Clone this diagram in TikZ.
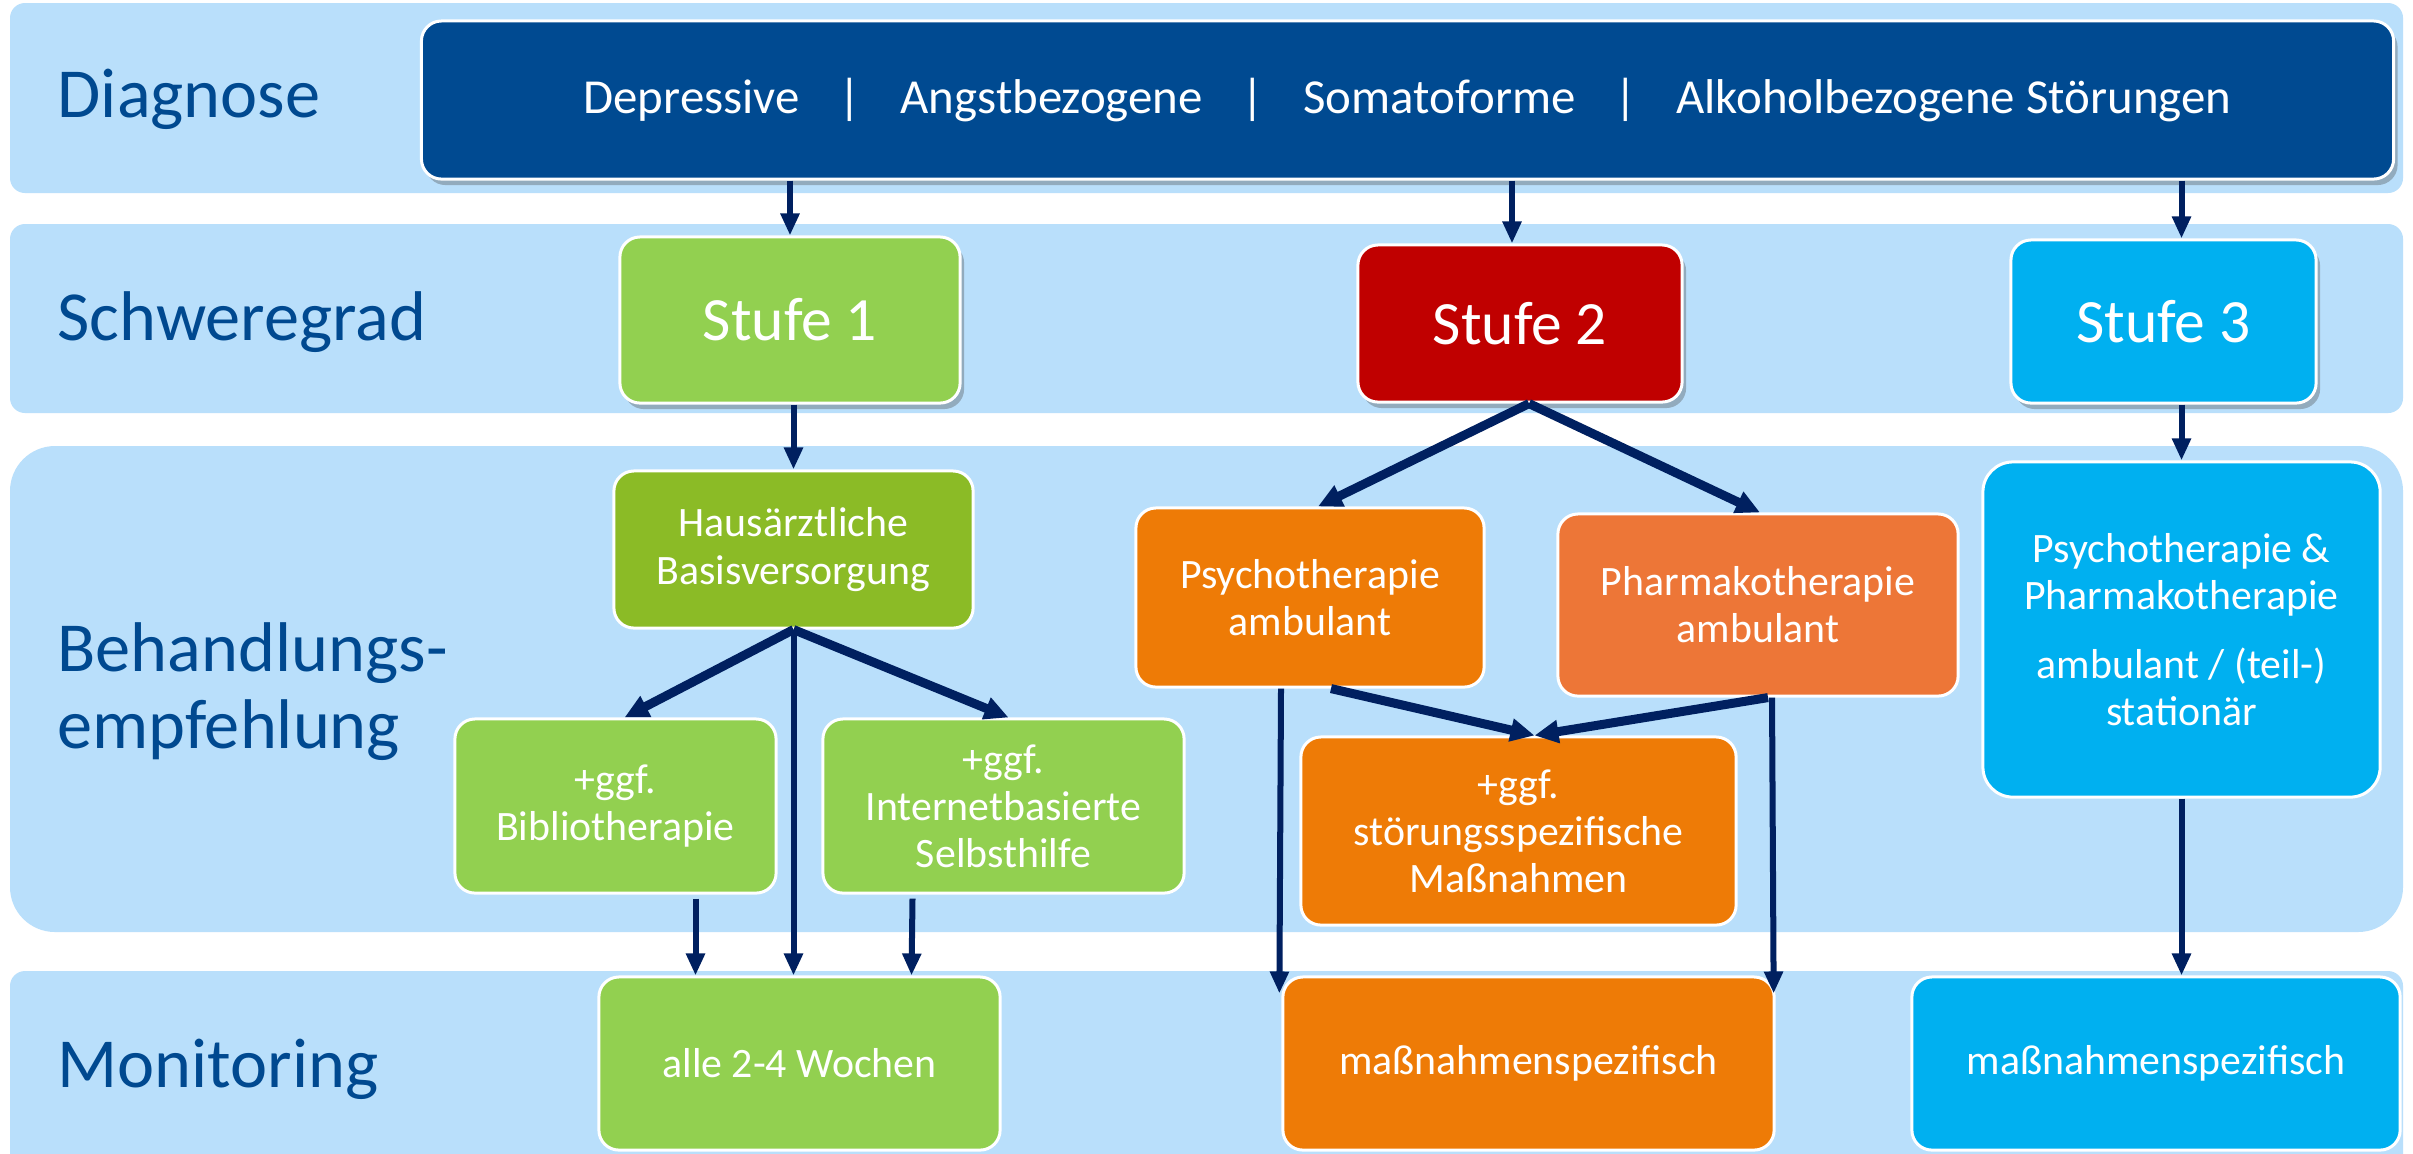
\documentclass[tikz,border=0pt]{standalone}
\usepackage{fontspec}
\setmainfont{Carlito}
\usetikzlibrary{arrows.meta,shadows,calc}
\definecolor{bandblue}{RGB}{185,223,251}
\definecolor{labelblue}{RGB}{0,73,144}
\definecolor{diagblue}{RGB}{0,74,145}
\definecolor{navy}{RGB}{0,32,96}
\definecolor{lgreen}{RGB}{146,208,80}
\definecolor{dgreen}{RGB}{139,187,38}
\definecolor{dred}{RGB}{192,0,0}
\definecolor{cyanbox}{RGB}{0,176,240}
\definecolor{orangebox}{RGB}{238,123,6}
\definecolor{orangelight}{RGB}{237,118,55}

\begin{document}
\begin{tikzpicture}[x=0.01cm,y=-0.01cm,
  band/.style={fill=bandblue},
  rowlabel/.style={anchor=base west, inner sep=0, text=labelblue, font=\fontsize{20}{24}\selectfont},
  box/.style={draw=white, line width=0.3mm, rounded corners=2mm, text=white, align=center, inner sep=0, font=\fontsize{11.9}{13.4}\selectfont},
  shadowed/.style={drop shadow={shadow xshift=0.4mm, shadow yshift=-0.6mm, opacity=0.35, fill=black!70}},
  stufe/.style={box, shadowed, font=\fontsize{17.5}{21}\selectfont},
  thinarrow/.style={draw=navy, line width=0.6mm, -{Triangle[length=2.2mm,width=1.8mm]}},
  thickarrow/.style={draw=navy, line width=0.9mm, -{Triangle[length=2.4mm,width=2.2mm]}},
]
\useasboundingbox (0,0) rectangle (2413,1153);
\fill[white] (0,0) rectangle (2413,1153);

% background bands of the four rows
\fill[band, rounded corners=1.5mm] (10,3) rectangle (2403,193);
\fill[band, rounded corners=1.5mm] (10,224) rectangle (2403,413);
\fill[band, rounded corners=4.5mm] (10,446) rectangle (2403,932);
\fill[band, rounded corners=1.5mm] (10,971) rectangle (2403,1190);

% row labels
\node[rowlabel] (lab1) at (57,117) {Diagnose};
\node[rowlabel] (lab2) at (57,340) {Schweregrad};
\node[rowlabel] (lab3a) at (57,671) {Behandlungs-};
\node[rowlabel] (lab3b) at (57,748) {empfehlung};
\node[rowlabel] (lab4) at (57,1087) {Monitoring};

% diagnosis bar
\node[box, shadowed, fill=diagblue, minimum width=197.1mm, minimum height=15.8mm,
      font=\fontsize{13.9}{16}\selectfont] (diag) at (1407.5,100)
  {Depressive\hspace{0.8em}|\hspace{0.8em}Angstbezogene\hspace{0.8em}|\hspace{0.8em}Somatoforme\hspace{0.8em}|\hspace{0.8em}Alkoholbezogene Störungen};

% severity levels
\node[stufe, fill=lgreen, minimum width=34mm, minimum height=16.6mm] (s1) at (790,320) {Stufe 1};
\node[stufe, fill=dred, minimum width=32.4mm, minimum height=15.7mm] (s2) at (1520,323.5) {Stufe 2};
\node[stufe, fill=cyanbox, minimum width=30.5mm, minimum height=16.3mm] (s3) at (2163.5,321.5) {Stufe 3};

% treatment recommendations
\node[box, fill=dgreen, minimum width=35.9mm, minimum height=15.7mm] (haus) at (793.5,549.5) {Hausärztliche\\Basisversorgung};
\node[box, fill=lgreen, minimum width=32.1mm, minimum height=17.4mm] (bib) at (615.5,806) {+ggf.\\Bibliotherapie};
\node[box, fill=lgreen, minimum width=36.1mm, minimum height=17.4mm] (inet) at (1003.5,806) {+ggf.\\Internetbasierte\\Selbsthilfe};
\node[box, fill=orangebox, minimum width=34.8mm, minimum height=17.9mm] (psy) at (1310,597.5) {Psychotherapie\\ambulant};
\node[box, fill=orangelight, minimum width=40mm, minimum height=18.2mm] (pha) at (1758,605) {Pharmakotherapie\\ambulant};
\node[box, fill=orangebox, minimum width=43.5mm, minimum height=18.8mm] (stoer) at (1518.5,831) {+ggf.\\störungsspezifische\\Maßnahmen};
\node[box, fill=cyanbox, rounded corners=3mm, minimum width=39.7mm, minimum height=33.5mm] (s3b) at (2181.5,629.5)
  {Psychotherapie \&\\Pharmakotherapie\\[6pt]ambulant / (teil-)\\stationär};

% monitoring
\node[box, fill=lgreen, minimum width=40.1mm, minimum height=17.3mm] (m1) at (799.5,1063.5) {alle 2-4 Wochen};
\node[box, fill=orangebox, minimum width=49.1mm, minimum height=17.3mm] (m2) at (1528.5,1063.5) {maßnahmenspezifisch};
\node[box, fill=cyanbox, minimum width=48.8mm, minimum height=17.3mm] (m3) at (2156,1063.5) {maßnahmenspezifisch};

% diagnosis to severity
\draw[thinarrow] (diag.south -| s1.north) -- (s1.north);
\draw[thinarrow] ($(diag.south -| s2.north)+(-8,0)$) -- ($(s2.north)+(-8,0)$);
\draw[thinarrow] (diag.south -| s3b.north) -- (s3.north -| s3b.north);

% level 1
\draw[thinarrow] (s1.south -| haus.north) -- (haus.north);
\draw[thickarrow] (haus.south) -- ($(bib.north)+(9,0)$);
\draw[thickarrow] (haus.south) -- ($(inet.north)+(5,0)$);
\draw[thinarrow] (haus.south) -- (m1.north -| haus.south);
\draw[thinarrow] ($(bib.south)+(80,4)$) -- ($(m1.north)+(-104,0)$);
\draw[thinarrow] ($(inet.south)+(-91,4)$) -- ($(m1.north)+(112,0)$);

% level 2
\draw[thickarrow] ($(s2.south)+(9,0)$) -- ($(psy.north)+(8,0)$);
\draw[thickarrow] ($(s2.south)+(9,0)$) -- ($(pha.north)+(2,0)$);
\draw[thickarrow] ($(psy.south)+(21,0)$) -- ($(stoer.north)+(16,0)$);
\draw[thickarrow] ($(pha.south)+(10,0)$) -- ($(stoer.north)+(16,0)$);
\draw[thinarrow] ($(psy.south)+(-29,0)$) -- ($(m2.north west)+(-2,18)$);
\draw[thinarrow] ($(pha.south)+(14,0)$) -- ($(m2.north east)+(-2,18)$);

% level 3
\draw[thinarrow] (s3.south -| s3b.north) -- (s3b.north);
\draw[thinarrow] (s3b.south) -- (m3.north -| s3b.south);
\end{tikzpicture}
\end{document}
